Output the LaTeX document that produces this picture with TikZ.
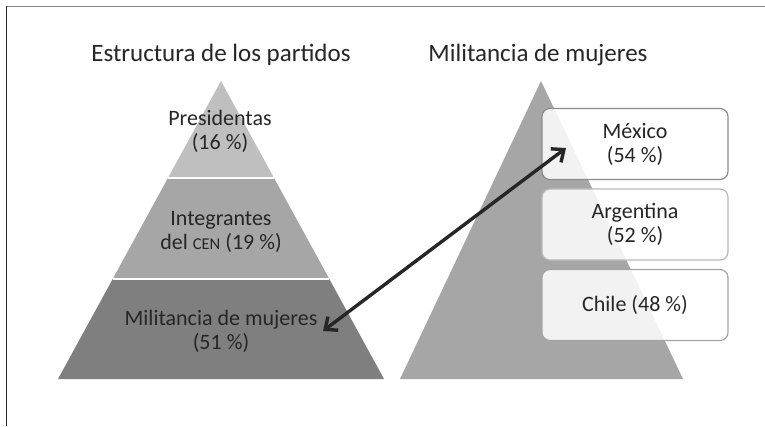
\documentclass[tikz,border=0pt]{standalone}
\usepackage{fontspec}
\setmainfont{Carlito}
\usetikzlibrary{calc,arrows.meta}
\definecolor{txt}{RGB}{38,38,38}
\definecolor{lvlA}{RGB}{191,191,191}
\definecolor{lvlB}{RGB}{166,166,166}
\definecolor{lvlC}{RGB}{127,127,127}
\definecolor{rpyr}{RGB}{166,166,166}
\definecolor{frametop}{RGB}{130,130,130}
\definecolor{bdA}{RGB}{140,140,140}
\definecolor{bdB}{RGB}{185,185,185}
\definecolor{bdC}{RGB}{165,165,165}
\tikzset{
  lbl/.style={text=txt,font=\fontsize{22}{24}\selectfont,align=center,inner sep=0pt},
  ttl/.style={text=txt,font=\fontsize{25}{28}\selectfont,inner sep=0pt},
  cbox/.style={draw=#1,line width=1.2pt,fill=white,fill opacity=0.86,text opacity=1,rounded corners=8pt,
    minimum width=186pt,minimum height=71pt,inner sep=0pt},
  sep/.style={draw=white,line width=2pt},
  dbl/.style={draw=txt,line width=3.4pt,{Straight Barb[length=10pt,width=17pt,line width=3.4pt]}-{Straight Barb[length=10pt,width=17pt,line width=3.4pt]}}
}
\begin{document}
\begin{tikzpicture}[x=1pt,y=-1pt]
\useasboundingbox (0,0) rectangle (765,426);
\fill[white] (0,0) rectangle (765,426);
% frame
\draw[color=frametop,line width=1.6pt] (6,6.5) -- (765,6.5);
\draw[color=txt,line width=1pt] (6.5,6) -- (6.5,426);
% left pyramid
\coordinate (LA) at (221,81);
\coordinate (LL) at (58,379);
\coordinate (LR) at (384,379);
\coordinate (L1l) at ($(LA)!0.3255!(LL)$);
\coordinate (L1r) at ($(LA)!0.3255!(LR)$);
\coordinate (L2l) at ($(LA)!0.664!(LL)$);
\coordinate (L2r) at ($(LA)!0.664!(LR)$);
\fill[lvlA] (LA) -- (L1r) -- (L1l) -- cycle;
\fill[lvlB] (L1l) -- (L1r) -- (L2r) -- (L2l) -- cycle;
\fill[lvlC] (L2l) -- (L2r) -- (LR) -- (LL) -- cycle;
\draw[sep] (L1l) -- (L1r);
\draw[sep] (L2l) -- (L2r);
\node[ttl] (t1) at (221,55) {Estructura de los partidos};
\node[lbl] (pres) at (220,131) {Presidentas\\(16~\%)};
\node[lbl] (cen) at (221,231.5) {Integrantes\\del {\fontsize{16.5}{24}\selectfont CEN} (19~\%)};
\node[lbl] (mil) at (221,331.5) {Militancia de mujeres\\(51~\%)};
% right pyramid
\coordinate (RA) at (541,81);
\coordinate (RL) at (400,379);
\coordinate (RR) at (683,379);
\fill[rpyr] (RA) -- (RR) -- (RL) -- cycle;
\node[ttl] (t2) at (538,55) {Militancia de mujeres};
\node[cbox=bdA,lbl] (mx) at (635,144) {México\\(54~\%)};
\node[cbox=bdB,lbl] (ar) at (635,224.5) {Argentina\\(52~\%)};
\node[cbox=bdC,lbl] (cl) at (635,305) {Chile (48~\%)};
% arrow
\coordinate (aL) at (323,331);
\coordinate (aR) at (566,148);
\draw[dbl] (aL) -- (aR);
\end{tikzpicture}
\end{document}
